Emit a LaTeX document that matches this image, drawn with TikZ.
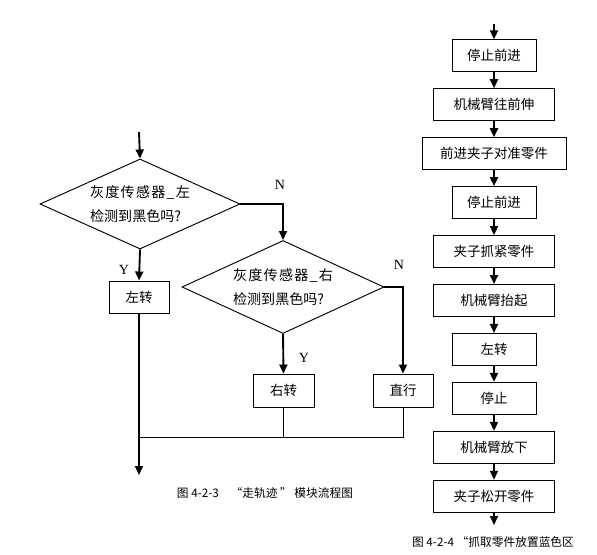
\documentclass[tikz,border=0pt]{standalone}
\usepackage{fontspec}
\setmainfont{Liberation Serif}
\newfontfamily\cjk{Noto Sans CJK SC}
\newfontfamily\cjkwide[LetterSpace=9]{Noto Sans CJK SC}
\usetikzlibrary{matrix,shapes.geometric,arrows.meta}

\tikzset{
  box/.style={draw, line width=0.8pt, minimum height=0.96cm, inner sep=0pt,
              font=\cjk\fontsize{11.5}{14}\selectfont},
  mid/.style={minimum width=3.63cm},
  wide/.style={minimum width=4.32cm},
  decide/.style={draw, diamond, aspect=2.2, line width=0.8pt, inner sep=0pt,
                 align=left, font=\cjk\fontsize{12}{21}\selectfont},
  flow/.style={line width=1.6pt, -{Triangle[length=0.27cm,width=0.24cm]}},
  merge/.style={line width=0.8pt},
  yn/.style={font=\fontsize{12}{14}\selectfont},
  figcap/.style={font=\cjk\fontsize{10}{12}\selectfont}
}

\begin{document}
\begin{tikzpicture}[x=0.03cm, y=-0.03cm]
  \useasboundingbox (0,0) rectangle (597,554);

  % left: track following
  \coordinate (start) at (139,132);
  \node[decide, minimum width=6cm, minimum height=2.7cm] (d1) at (140,204)
    {{\cjkwide 灰度传感器\_左}\\检测到黑色吗?};
  \node[decide, minimum width=6.06cm, minimum height=2.79cm] (d2) at (283,287)
    {{\cjkwide 灰度传感器\_右}\\检测到黑色吗?};
  \node[box, minimum width=1.8cm] (left) at (139,297) {左转};
  \node[box, minimum width=1.83cm, minimum height=0.99cm] (right) at (283.5,390.5) {右转};
  \node[box, minimum width=1.8cm, minimum height=0.99cm] (straight) at (403,390.5) {直行};
  \coordinate (join) at (139,437);
  \coordinate (end) at (139,475);

  \draw[flow] (start) -- (d1.north);
  \draw[flow] (d1.south) -- (left.north);
  \draw[flow] (d1.east) -| (d2.north);
  \draw[flow] (d2.south) -- (right.north);
  \draw[flow] (d2.east) -| (straight.north);
  \draw[flow] (left.south) -- (end);
  \draw[merge] (straight.south) |- (join);
  \draw[merge] (right.south) -- (right.south |- join);

  \node[yn] (y1) at (124,270) {Y};
  \node[yn] (n1) at (280,185) {N};
  \node[yn] (y2) at (304,358) {Y};
  \node[yn] (n2) at (399,265) {N};

  \node[figcap] (cap1) at (265,493) {图 4-2-3\quad “走轨迹 ” 模块流程图};

  % right: pick up the part and place it
  \matrix (m) [matrix of nodes, inner sep=0pt, row sep=0.48cm,
               nodes={box, minimum width=2.52cm}] at (494,276)
  {
    停止前进 \\
    |[mid]| 机械臂往前伸 \\
    |[wide]| 前进夹子对准零件 \\
    停止前进 \\
    |[mid]| 夹子抓紧零件 \\
    |[mid]| 机械臂抬起 \\
    左转 \\
    停止 \\
    |[mid]| 机械臂放下 \\
    |[mid]| 夹子松开零件 \\
  };
  \coordinate (top) at (494,24);
  \coordinate (bottom) at (494,525);
  \draw[flow] (top) -- (m-1-1);
  \foreach \i [count=\j from 2] in {1,...,9}
    \draw[flow] (m-\i-1) -- (m-\j-1);
  \draw[flow] (m-10-1) -- (bottom);

  \node[figcap, anchor=west] (cap2) at (408,542) {图 4-2-4 “抓取零件放置蓝色区};
\end{tikzpicture}
\end{document}
